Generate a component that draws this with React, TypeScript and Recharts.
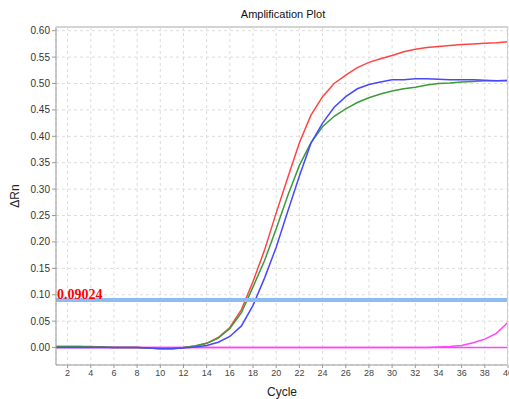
import { LineChart, Line, XAxis, YAxis, CartesianGrid, ReferenceLine } from "recharts";

const cycles = [1, 2, 3, 4, 5, 6, 7, 8, 9, 10, 11, 12, 13, 14, 15, 16, 17, 18, 19, 20, 21, 22, 23, 24, 25, 26, 27, 28, 29, 30, 31, 32, 33, 34, 35, 36, 37, 38, 39, 40];

const red = [0.002, 0.002, 0.002, 0.002, 0.001, 0.0, 0.0, 0.0, -0.001, -0.001, -0.001, 0.0, 0.003, 0.008, 0.019, 0.038, 0.072, 0.125, 0.185, 0.255, 0.322, 0.388, 0.44, 0.475, 0.5, 0.516, 0.53, 0.54, 0.547, 0.553, 0.56, 0.565, 0.568, 0.57, 0.572, 0.574, 0.575, 0.576, 0.577, 0.579];
const green = [0.002, 0.002, 0.002, 0.001, 0.001, 0.0, 0.0, 0.0, -0.001, -0.002, -0.002, 0.0, 0.003, 0.008, 0.018, 0.036, 0.066, 0.115, 0.165, 0.225, 0.288, 0.345, 0.388, 0.418, 0.438, 0.452, 0.464, 0.473, 0.48, 0.486, 0.49, 0.493, 0.497, 0.5, 0.501, 0.503, 0.504, 0.505, 0.505, 0.506];
const blue = [0.0, 0.0, 0.0, 0.0, 0.0, 0.0, 0.0, 0.0, -0.001, -0.002, -0.002, -0.001, 0.001, 0.004, 0.01, 0.021, 0.041, 0.08, 0.132, 0.19, 0.258, 0.325, 0.387, 0.425, 0.455, 0.475, 0.49, 0.498, 0.503, 0.507, 0.507, 0.509, 0.509, 0.508, 0.507, 0.507, 0.507, 0.506, 0.505, 0.505];
const magentaFlat = [0, 0, 0, 0, 0, 0, 0, 0, 0, 0, 0, 0, 0, 0, 0, 0, 0, 0, 0, 0, 0, 0, 0, 0, 0, 0, 0, 0, 0, 0, 0, 0, 0, 0, 0, 0, 0, 0, 0, 0];
const magentaLate = [0, 0, 0, 0, 0, 0, 0, 0, 0, 0, 0, 0, 0, 0, 0, 0, 0, 0, 0, 0, 0, 0, 0, 0, 0, 0, 0, 0, 0, 0, 0, 0, 0, 0.001, 0.002, 0.004, 0.009, 0.016, 0.027, 0.048];

const xTicks = [2, 4, 6, 8, 10, 12, 14, 16, 18, 20, 22, 24, 26, 28, 30, 32, 34, 36, 38, 40];
const yTicks = [0, 0.05, 0.1, 0.15, 0.2, 0.25, 0.3, 0.35, 0.4, 0.45, 0.5, 0.55, 0.6];
const threshold = 0.09024;

const data = cycles.map((c, i) => ({
  cycle: c,
  red: red[i],
  green: green[i],
  blue: blue[i],
  magentaFlat: magentaFlat[i],
  magentaLate: magentaLate[i],
}));

const font = "Arial, 'Liberation Sans', sans-serif";

export default function App() {
  return (
    <div style={{ position: "absolute", left: 0, top: 0, width: 509, height: 399, background: "#fff", fontFamily: font }}>
      <div style={{ position: "absolute", left: 0, width: 566, top: 8, textAlign: "center", fontSize: 11, color: "#111" }}>
        Amplification Plot
      </div>
      <div
        style={{
          position: "absolute",
          left: 15,
          top: 196,
          fontSize: 12,
          color: "#222",
          transform: "translate(-50%, -50%) rotate(-90deg)",
          whiteSpace: "nowrap",
        }}
      >
        ΔRn
      </div>
      <LineChart width={509} height={399} data={data} margin={{ top: 27, right: 1, bottom: 0, left: 0 }}>
        <CartesianGrid stroke="#dcdcdc" strokeDasharray="3 3" />
        <XAxis
          dataKey="cycle"
          type="number"
          domain={[1, 40]}
          ticks={xTicks}
          interval={0}
          height={34}
          tickSize={3}
          tick={{ fontSize: 9, fill: "#444", fontFamily: font }}
          stroke="#999"
          allowDataOverflow
          label={{ value: "Cycle", position: "insideBottom", offset: 3, fontSize: 12, fill: "#222", fontFamily: font }}
        />
        <YAxis
          type="number"
          domain={[-0.033, 0.607]}
          ticks={yTicks}
          interval={0}
          width={56}
          tickSize={4}
          tickFormatter={(v: number) => v.toFixed(2)}
          tick={{ fontSize: 10, fill: "#333", fontFamily: font }}
          stroke="#999"
          allowDataOverflow
        />
        <Line dataKey="magentaFlat" stroke="#ff44ff" strokeWidth={1.5} dot={false} isAnimationActive={false} />
        <Line dataKey="magentaLate" stroke="#ff44ff" strokeWidth={1.5} dot={false} isAnimationActive={false} />
        <Line dataKey="red" stroke="#ff4444" strokeWidth={1.5} dot={false} isAnimationActive={false} />
        <Line dataKey="green" stroke="#3c9a3c" strokeWidth={1.5} dot={false} isAnimationActive={false} />
        <Line dataKey="blue" stroke="#4848ff" strokeWidth={1.5} dot={false} isAnimationActive={false} />
        <ReferenceLine
          y={threshold}
          stroke="#8cbcf0"
          strokeWidth={4}
          label={(props: any) => (
            <text
              x={props.viewBox.x + 1}
              y={props.viewBox.y - 1}
              fill="#ff0000"
              fontSize={14}
              fontWeight="bold"
              fontFamily="'Liberation Serif', 'Times New Roman', serif"
            >
              {threshold.toFixed(5)}
            </text>
          )}
        />
      </LineChart>
      <div
        style={{
          position: "absolute",
          left: 56,
          top: 26,
          width: 451,
          height: 339,
          borderTop: "2px solid #d4d4d4",
          borderRight: "1px solid #cfcfcf",
          pointerEvents: "none",
        }}
      />
    </div>
  );
}
